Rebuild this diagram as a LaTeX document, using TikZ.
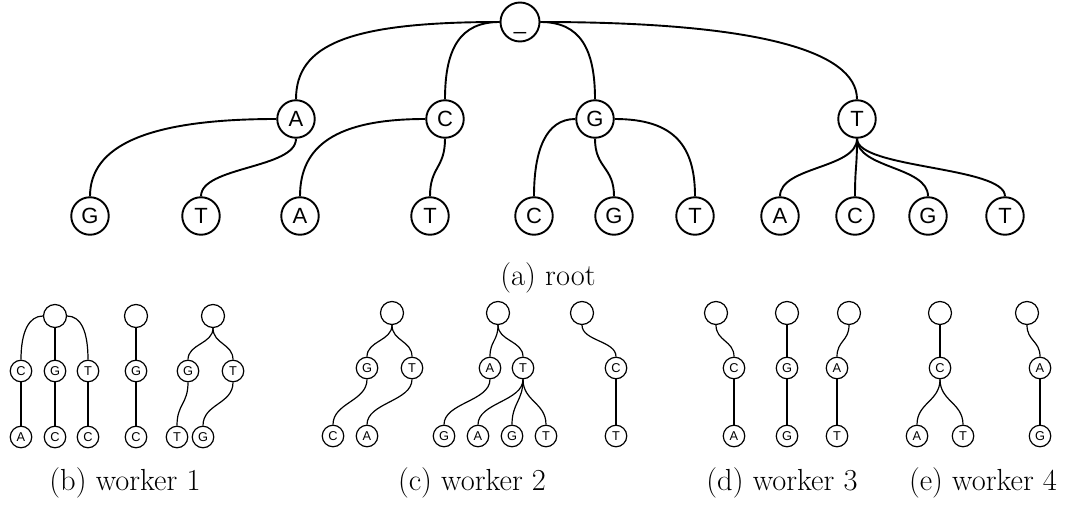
\documentclass[tikz,border=0pt]{standalone}
\usepackage{fontspec}
\newfontfamily\arialf{Liberation Sans}
\newcommand\bigletfont{\arialf\fontsize{22}{22}\selectfont}
\newcommand\smletfont{\arialf\fontsize{12.8}{12.8}\selectfont}
\newcommand\capfont{\fontsize{30.5}{36}\selectfont}
\tikzset{
  big/.style={circle, draw, line width=1.9pt, minimum size=37.5pt, inner sep=0pt, font=\bigletfont, text height=15.8pt, text depth=0pt},
  bigroot/.style={big, minimum size=39pt},
  sm/.style={circle, draw, line width=1.2pt, minimum size=21.5pt, inner sep=0pt, font=\smletfont, text height=9.2pt, text depth=0pt},
  smroot/.style={sm, minimum size=23pt},
  edge/.style={line width=1.9pt},
  sedge/.style={line width=1.2pt},
  captext/.style={anchor=base, font=\capfont, inner sep=0pt}
}
\newcommand\scurve[4]{\draw[#1] (#2.south) .. controls +(0,#4) and +(0,-#4) .. (#3.north);}
\begin{document}
\begin{tikzpicture}[x=1pt,y=-1pt]
\useasboundingbox (0,0) rectangle (1065,508);
% ---------- (a) root ----------
\node[bigroot] (R) at (520,22) {\_};
\node[big] (A) at (296,119) {A};
\node[big] (C) at (445,119) {C};
\node[big] (G) at (595,119) {G};
\node[big] (T) at (857,119) {T};
\node[big] (AG) at (90,216) {G};
\node[big] (AT) at (201,216) {T};
\node[big] (CA) at (300,216) {A};
\node[big] (CT) at (430,216) {T};
\node[big] (GC) at (534,216) {C};
\node[big] (GG) at (614,216) {G};
\node[big] (GT) at (695,216) {T};
\node[big] (TA) at (780,216) {A};
\node[big] (TC) at (855,216) {C};
\node[big] (TG) at (928,216) {G};
\node[big] (TT) at (1005,216) {T};
\draw[edge] (R.west) .. controls +(-150,0) and +(0,-55) .. (A.north);
\draw[edge] (R.west) .. controls +(-40,0) and +(0,-50) .. (C.north);
\draw[edge] (R.east) .. controls +(40,0) and +(0,-50) .. (G.north);
\draw[edge] (R.east) .. controls +(210,0) and +(0,-50) .. (T.north);
\draw[edge] (A.west) .. controls +(-130,0) and +(0,-50) .. (AG.north);
\scurve{edge}{A}{AT}{30}
\draw[edge] (C.west) .. controls +(-90,0) and +(0,-50) .. (CA.north);
\scurve{edge}{C}{CT}{30}
\draw[edge] (G.west) .. controls +(-30,0) and +(0,-45) .. (GC.north);
\scurve{edge}{G}{GG}{30}
\draw[edge] (G.east) .. controls +(60,0) and +(0,-50) .. (GT.north);
\scurve{edge}{T}{TA}{30}
\scurve{edge}{T}{TC}{30}
\scurve{edge}{T}{TG}{30}
\scurve{edge}{T}{TT}{30}
\node[captext] (capa) at (548,285) {(a) root};
% ---------- (b) worker 1 ----------
\node[smroot] (b1r) at (55,316) {};
\node[sm] (b1c) at (21,371) {C};
\node[sm] (b1g) at (55,371) {G};
\node[sm] (b1t) at (88,371) {T};
\node[sm] (b1ca) at (21,437) {A};
\node[sm] (b1gc) at (55,437) {C};
\node[sm] (b1tc) at (88,437) {C};
\draw[sedge] (b1r.west) .. controls +(-14,0) and +(0,-28) .. (b1c.north);
\draw[sedge] (b1r) -- (b1g);
\draw[sedge] (b1r.east) .. controls +(14,0) and +(0,-28) .. (b1t.north);
\draw[sedge] (b1c) -- (b1ca);
\draw[sedge] (b1g) -- (b1gc);
\draw[sedge] (b1t) -- (b1tc);
\node[smroot] (b2r) at (136,316) {};
\node[sm] (b2g) at (136,371) {G};
\node[sm] (b2c) at (136,437) {C};
\draw[sedge] (b2r) -- (b2g);
\draw[sedge] (b2g) -- (b2c);
\node[smroot] (b3r) at (213,316) {};
\node[sm] (b3g) at (188,371) {G};
\node[sm] (b3t) at (233,371) {T};
\node[sm] (b3gt) at (177,437) {T};
\node[sm] (b3tg) at (203,437) {G};
\scurve{sedge}{b3r}{b3g}{16}
\scurve{sedge}{b3r}{b3t}{16}
\scurve{sedge}{b3g}{b3gt}{22}
\scurve{sedge}{b3t}{b3tg}{22}
\node[captext] (capb) at (125,490) {(b) worker 1};
% ---------- (c) worker 2 ----------
\node[smroot] (c1r) at (392,313) {};
\node[sm] (c1g) at (367,368) {G};
\node[sm] (c1t) at (412,368) {T};
\node[sm] (c1gc) at (333,436) {C};
\node[sm] (c1ta) at (367,436) {A};
\scurve{sedge}{c1r}{c1g}{16}
\scurve{sedge}{c1r}{c1t}{16}
\scurve{sedge}{c1g}{c1gc}{22}
\scurve{sedge}{c1t}{c1ta}{22}
\node[smroot] (c2r) at (498,313) {};
\node[sm] (c2a) at (490,368) {A};
\node[sm] (c2t) at (523,368) {T};
\node[sm] (c2ag) at (444,436) {G};
\node[sm] (c2ta) at (478,436) {A};
\node[sm] (c2tg) at (512,436) {G};
\node[sm] (c2tt) at (546,436) {T};
\scurve{sedge}{c2r}{c2a}{16}
\scurve{sedge}{c2r}{c2t}{16}
\scurve{sedge}{c2a}{c2ag}{22}
\scurve{sedge}{c2t}{c2ta}{22}
\scurve{sedge}{c2t}{c2tg}{22}
\scurve{sedge}{c2t}{c2tt}{22}
\node[smroot] (c3r) at (582,313) {};
\node[sm] (c3c) at (616,368) {C};
\node[sm] (c3ct) at (616,436) {T};
\scurve{sedge}{c3r}{c3c}{16}
\draw[sedge] (c3c) -- (c3ct);
\node[captext] (capc) at (472,490) {(c) worker 2};
% ---------- (d) worker 3 ----------
\node[smroot] (d1r) at (716,313) {};
\node[sm] (d1c) at (734,368) {C};
\node[sm] (d1ca) at (734,436) {A};
\scurve{sedge}{d1r}{d1c}{16}
\draw[sedge] (d1c) -- (d1ca);
\node[smroot] (d2r) at (787,313) {};
\node[sm] (d2g) at (787,368) {G};
\node[sm] (d2gg) at (787,436) {G};
\draw[sedge] (d2r) -- (d2g);
\draw[sedge] (d2g) -- (d2gg);
\node[smroot] (d3r) at (849,313) {};
\node[sm] (d3a) at (837,368) {A};
\node[sm] (d3at) at (837,436) {T};
\scurve{sedge}{d3r}{d3a}{16}
\draw[sedge] (d3a) -- (d3at);
\node[captext] (capd) at (782,490) {(d) worker 3};
% ---------- (e) worker 4 ----------
\node[smroot] (e1r) at (940,313) {};
\node[sm] (e1c) at (940,368) {C};
\node[sm] (e1ca) at (917,436) {A};
\node[sm] (e1ct) at (963,436) {T};
\draw[sedge] (e1r) -- (e1c);
\scurve{sedge}{e1c}{e1ca}{22}
\scurve{sedge}{e1c}{e1ct}{22}
\node[smroot] (e2r) at (1027,313) {};
\node[sm] (e2a) at (1040,368) {A};
\node[sm] (e2ag) at (1040,436) {G};
\scurve{sedge}{e2r}{e2a}{16}
\draw[sedge] (e2a) -- (e2ag);
\node[captext] (cape) at (983,490) {(e) worker 4};
\end{tikzpicture}
\end{document}
